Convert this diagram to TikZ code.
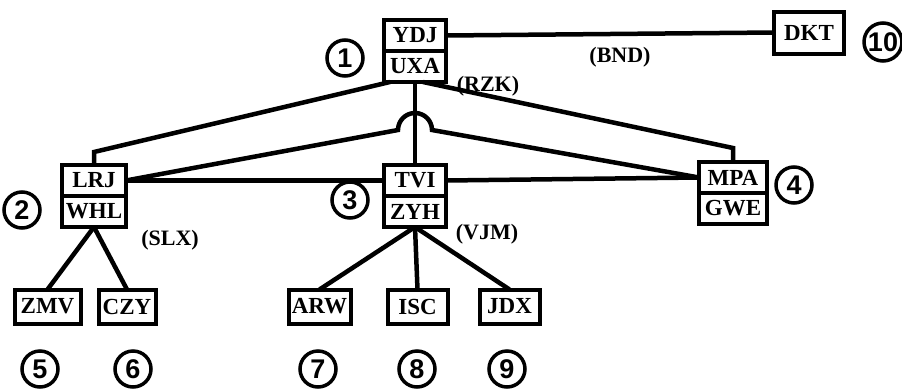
\documentclass[tikz,border=0pt]{standalone}
\usepackage{fontspec}
\newfontfamily\boxfont{Liberation Serif}
\newfontfamily\numfont{Liberation Sans}
\usetikzlibrary{positioning}
\begin{document}
\begin{tikzpicture}[x=1pt,y=1pt,line width=4.5pt,node distance=0pt]
\tikzstyle{half}=[draw,line width=4pt,outer sep=0pt,inner sep=0pt,minimum width=62pt,minimum height=31pt,font=\fontsize{23}{23}\boxfont\bfseries]
\tikzstyle{leaf}=[draw,line width=4pt,outer sep=0pt,inner sep=0pt,minimum width=60pt,minimum height=34pt,font=\fontsize{23}{23}\boxfont\bfseries]
\tikzstyle{num}=[draw,circle,line width=3.5pt,inner sep=0pt,minimum size=36pt,font=\fontsize{27}{27}\numfont\bfseries]
\tikzstyle{tag}=[inner sep=0pt,font=\fontsize{22}{22}\boxfont\bfseries]
\useasboundingbox (0,0) rectangle (902,-389);
% split boxes
\node[half] (n1t) at (415,-35.5) {YDJ};
\node[half,below=of n1t] (n1b) {UXA};
\node[half,minimum width=64pt] (n2t) at (94,-180.5) {LRJ};
\node[half,minimum width=64pt,below=of n2t] (n2b) {WHL};
\node[half] (n3t) at (415,-180.5) {TVI};
\node[half,below=of n3t] (n3b) {ZYH};
\node[half,minimum width=68pt] (n4t) at (733,-177.5) {MPA};
\node[half,minimum width=68pt,below=of n4t] (n4b) {GWE};
\node[leaf,minimum width=70pt,minimum height=42pt] (dkt) at (809,-32.5) {DKT};
% leaves
\node[leaf,minimum width=66pt] (zmv) at (47.5,-306.5) {ZMV};
\node[leaf,minimum width=57pt] (czy) at (127,-306.5) {CZY};
\node[leaf,minimum width=62pt] (arw) at (319.5,-306.5) {ARW};
\node[leaf] (isc) at (417.5,-306.5) {ISC};
\node[leaf] (jdx) at (509.5,-306.5) {JDX};
% numbers
\node[num] (c1) at (345,-58) {1};
\node[num] (c2) at (22,-210) {2};
\node[num] (c3) at (350,-200) {3};
\node[num] (c4) at (794,-185) {4};
\node[num] (c5) at (40,-369) {5};
\node[num] (c6) at (133,-369) {6};
\node[num] (c7) at (318,-369) {7};
\node[num] (c8) at (417,-369) {8};
\node[num] (c9) at (507,-369) {9};
\node[num,minimum size=38pt] (c10) at (883,-42) {10};
% tags
\node[tag] (rzk) at (488,-86) {(RZK)};
\node[tag] (bnd) at (620,-57) {(BND)};
\node[tag] (slx) at (170,-240) {(SLX)};
\node[tag] (vjm) at (487,-234) {(VJM)};
% links
\draw (n1t.east) -- (dkt.west);
\draw ([xshift=6pt]n1b.south west) -- ([yshift=13pt]n2t.north) -- (n2t.north);
\draw ([xshift=8pt]n1b.south) -- ([yshift=14pt]n4t.north) -- (n4t.north);
\draw (n1b.south) -- (n3t.north);
\draw (n2t.east) -- (398,-130) arc[start angle=180,end angle=0,radius=17] -- (n4t.west);
\draw (n2t.east) -- (n3t.west);
\draw (n3t.east) -- (n4t.west);
\draw (n2b.south) -- (zmv.north);
\draw (n2b.south) -- (czy.north);
\draw (n3b.south) -- (arw.north);
\draw (n3b.south) -- (isc.north);
\draw (n3b.south) -- (jdx.north);
\end{tikzpicture}
\end{document}
